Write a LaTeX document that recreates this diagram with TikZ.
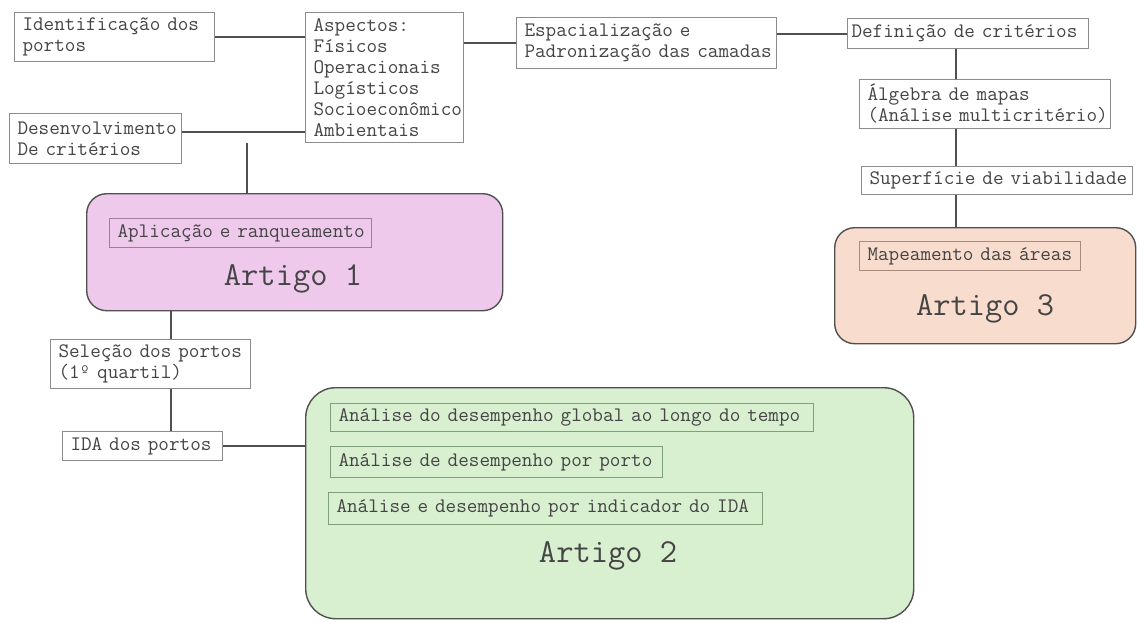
\documentclass[tikz,border=0pt]{standalone}
\usepackage{fontspec}
\definecolor{linha}{HTML}{505050}
\definecolor{borda}{HTML}{8C8C8C}
\definecolor{texto}{HTML}{444444}
\definecolor{rosa}{HTML}{EFC9EC}
\definecolor{verde}{HTML}{D8EFD0}
\definecolor{pessego}{HTML}{F8DCCD}
\definecolor{bordarosa}{HTML}{9C7F9A}
\definecolor{bordaverde}{HTML}{7F9F78}
\definecolor{bordapessego}{HTML}{A88A7C}
\newcommand{\caixafont}{\ttfamily\fontsize{20.6}{21}\selectfont}
\newcommand{\titulofont}{\ttfamily\fontsize{33.5}{36}\selectfont}
\tikzset{
  % linhas um pouco longas nao quebram
  caixa/.style={draw=borda, line width=1pt, anchor=north west, inner xsep=8pt,
    inner ysep=2pt, align=left, text=texto, font=\caixafont,
    execute at begin node={\rightskip=0pt plus 1fil minus 30pt}},
  artigo/.style={draw=linha, line width=1.4pt, rounded corners=20pt,
    anchor=north west, inner sep=0pt},
  titulo/.style={text=texto, font=\titulofont},
  liga/.style={draw=linha, line width=2pt}
}
\begin{document}
\begin{tikzpicture}[x=1pt,y=-1pt]
  \useasboundingbox (0,0) rectangle (1137,622);
  % artigos
  \node[artigo, fill=rosa, minimum width=416pt, minimum height=117pt] (artigoA) at (86,193) {};
  \node[artigo, fill=verde, rounded corners=30pt, minimum width=608pt, minimum height=231pt] (artigoB) at (305,387) {};
  \node[artigo, fill=pessego, minimum width=301pt, minimum height=116pt] (artigoC) at (834,227) {};
  % caixas de cima
  \node[caixa, text width=184pt, minimum height=49pt] (ident) at (14,12) {Identificação dos\\portos};
  \node[caixa, text width=142pt, minimum height=130pt] (aspectos) at (305,12) {Aspectos:\\Físicos\\Operacionais\\Logísticos\\Socioeconômico\\Ambientais};
  \node[caixa, text width=156pt, minimum height=50pt] (desenv) at (9,113) {Desenvolvimento\\De critérios};
  \node[caixa, text width=244pt, minimum height=51pt] (espac) at (516,17) {Espacialização e\\Padronização das camadas};
  \node[caixa, inner xsep=4pt, text width=233pt, minimum height=30pt] (defin) at (847,18) {Definição de critérios};
  \node[caixa, text width=235pt, minimum height=49pt] (algebra) at (859,79) {Álgebra de mapas\\(Análise multicritério)};
  \node[caixa, text width=255pt, minimum height=28pt] (superf) at (861,166) {Superfície de viabilidade};
  % artigo 1
  \node[caixa, draw=bordarosa, text width=246pt, minimum height=29pt] (aplic) at (109,218) {Aplicação e ranqueamento};
  \node[titulo] (tituloA) at (293,279) {Artigo 1};
  \node[caixa, text width=184pt, minimum height=49pt] (selecao) at (50,339) {Seleção dos portos\\(1º quartil)};
  \node[caixa, text width=144pt, minimum height=29pt] (ida) at (62,431) {IDA dos portos};
  % artigo 2
  \node[caixa, draw=bordaverde, text width=467pt, minimum height=28pt] (analiseA) at (330,403) {Análise do desempenho global ao longo do tempo};
  \node[caixa, draw=bordaverde, text width=316pt, minimum height=31pt] (analiseB) at (330,446) {Análise de desempenho por porto};
  \node[caixa, draw=bordaverde, text width=418pt, minimum height=32pt] (analiseC) at (328,492) {Análise e desempenho por indicador do IDA};
  \node[titulo] (tituloB) at (608,556) {Artigo 2};
  % artigo 3
  \node[caixa, draw=bordapessego, text width=205pt, minimum height=29pt] (mapeam) at (859,241) {Mapeamento das áreas};
  \node[titulo] (tituloC) at (985,309) {Artigo 3};
  % ligacoes
  \coordinate (eixoA) at (171,0);
  \coordinate (eixoC) at (956,0);
  \coordinate (pe) at (247,143);
  \draw[liga] (ident.east) -- (ident.east -| aspectos.west);
  \draw[liga] ([yshift=7pt]desenv.east) -- ([yshift=7pt]desenv.east -| aspectos.west);
  \draw[liga] (pe) -- (pe |- artigoA.north);
  \draw[liga] (espac.west) -- (espac.west -| aspectos.east);
  \draw[liga] (defin.west) -- (defin.west -| espac.east);
  \draw[liga] (defin.south -| eixoC) -- (algebra.north -| eixoC);
  \draw[liga] (algebra.south -| eixoC) -- (superf.north -| eixoC);
  \draw[liga] (superf.south -| eixoC) -- (artigoC.north -| eixoC);
  \draw[liga] (artigoA.south -| eixoA) -- (selecao.north -| eixoA);
  \draw[liga] (selecao.south -| eixoA) -- (ida.north -| eixoA);
  \draw[liga] (ida.east) -- (ida.east -| artigoB.west);
\end{tikzpicture}
\end{document}
